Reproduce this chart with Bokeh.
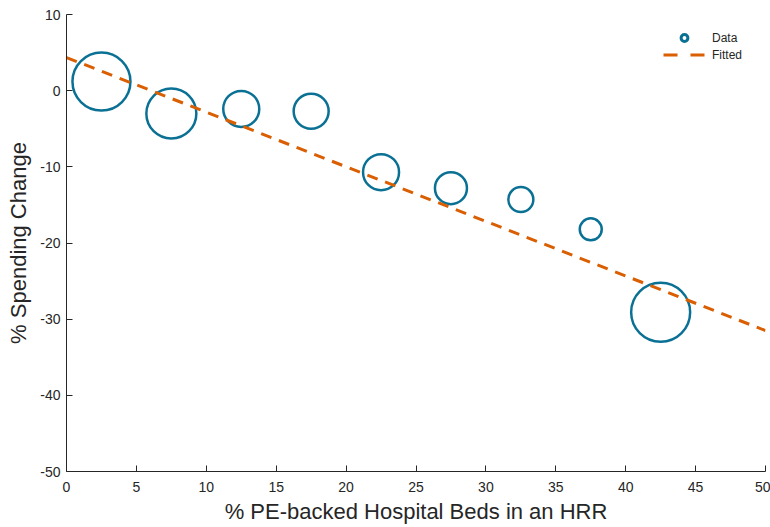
import math
from bokeh.plotting import figure
from bokeh.models import Legend, LegendItem, FixedTicker, ColumnDataSource
from bokeh.embed import file_html
from bokeh.resources import INLINE

# Data
bed_share = [2.5, 7.5, 12.5, 17.5, 22.5, 27.5, 32.5, 37.5, 42.5]
spend_change = [1.2, -3.0, -2.4, -2.7, -10.7, -12.8, -14.3, -18.2, -29.1]
weights = [58, 50, 36, 35, 36, 32, 25, 22, 59]
fit_x = [0, 50]
fit_y = [4.35, -31.5]
x_ticks = [0, 5, 10, 15, 20, 25, 30, 35, 40, 45, 50]
y_ticks = [-50, -40, -30, -20, -10, 0, 10]

BLUE = "#0a7195"
ORANGE = "#d95f02"
TXT = "#262626"

p = figure(width=770, height=527, output_backend="svg", toolbar_location=None,
           x_range=(0, 50), y_range=(-50, 10),
           min_border_left=66, min_border_right=5, min_border_top=14, min_border_bottom=56)
p.outline_line_color = None
p.grid.visible = False
p.background_fill_color = "white"
p.border_fill_color = "white"

src = ColumnDataSource(dict(x=bed_share, y=spend_change, s=[w * 1.0 for w in weights]))
r_data = p.scatter("x", "y", size="s", source=src, fill_color=None,
                   line_color=BLUE, line_width=2.5)
r_fit = p.line(fit_x, fit_y, line_color=ORANGE, line_width=3, line_dash="11 8")
# legend-only proxies
r_leg = p.scatter([math.nan], [math.nan], size=10, fill_color=None,
                  line_color=BLUE, line_width=3)
r_fit_leg = p.line([math.nan, math.nan], [math.nan, math.nan], line_color=ORANGE,
                   line_width=3, line_dash="14 13")

legend = Legend(items=[LegendItem(label="Data", renderers=[r_leg]),
                       LegendItem(label="Fitted", renderers=[r_fit_leg])],
                location=(597, 408), border_line_color=None,
                background_fill_alpha=0, label_text_font_size="12px",
                label_text_color=TXT, label_text_font="Liberation Sans",
                glyph_width=42, glyph_height=17, spacing=0, padding=0,
                label_height=17, label_standoff=7, margin=0)
p.add_layout(legend)

for ax in (p.xaxis[0], p.yaxis[0]):
    ax.axis_line_color = TXT
    ax.axis_line_width = 1
    ax.major_tick_in = 6
    ax.major_tick_out = 0
    ax.minor_tick_line_color = None
    ax.major_tick_line_color = TXT
    ax.major_label_text_font_size = "14px"
    ax.major_label_text_color = TXT
    ax.major_label_text_font = "Liberation Sans"
    ax.axis_label_text_font_size = "22px"
    ax.axis_label_text_font_style = "normal"
    ax.axis_label_text_color = TXT
    ax.axis_label_text_font = "Liberation Sans"

p.xaxis[0].ticker = FixedTicker(ticks=x_ticks)
p.yaxis[0].ticker = FixedTicker(ticks=y_ticks)
p.xaxis[0].major_label_overrides = {t: str(t) for t in x_ticks}
p.yaxis[0].major_label_overrides = {t: str(t) for t in y_ticks}
p.xaxis[0].axis_label = "% PE-backed Hospital Beds in an HRR"
p.yaxis[0].axis_label = "% Spending Change"
p.xaxis[0].major_label_standoff = 10
p.yaxis[0].major_label_standoff = 6
p.xaxis[0].axis_label_standoff = 4
p.yaxis[0].axis_label_standoff = 6

open("out.html", "w").write(file_html(p, INLINE))
